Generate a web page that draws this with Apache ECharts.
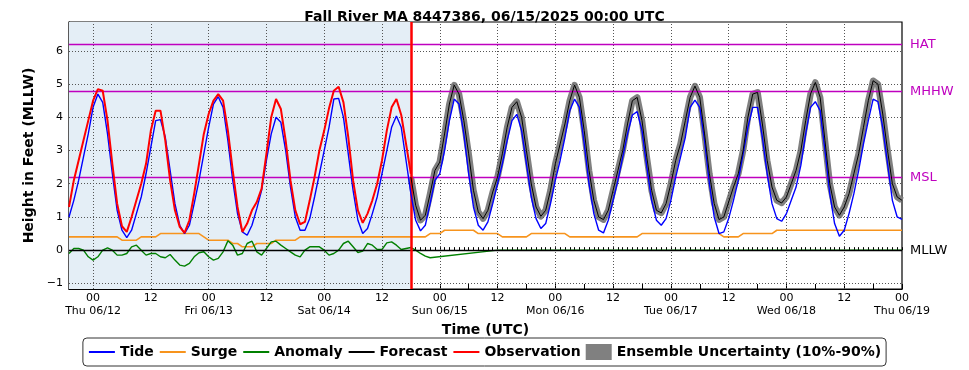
<!DOCTYPE html>
<html><head><meta charset="utf-8">
<script src="https://cdn.jsdelivr.net/npm/echarts@6/dist/echarts.min.js"></script>
<style>html,body{margin:0;padding:0;background:#fff}#c{width:969px;height:370px}</style>
</head><body><div id="c"></div>
<script>
// ---- data (hours relative to Thu 06/12 00:00 UTC) ----
const titleText = 'Fall River MA 8447386, 06/15/2025 00:00 UTC';
const xMinHour = -5, xMaxHour = 168;
const xTickHours = [0,12,24,36,48,60,72,84,96,108,120,132,144,156,168];
const xTickTop = ['00','12','00','12','00','12','00','12','00','12','00','12','00','12','00'];
const xTickDays = ['Thu 06/12','','Fri 06/13','','Sat 06/14','','Sun 06/15','','Mon 06/16','','Tue 06/17','','Wed 06/18','','Thu 06/19'];
const yTicks = [-1,0,1,2,3,4,5,6];
const datumNames = ['HAT','MHHW','MSL','MLLW'];
const datumValues = [6.2,4.78,2.19,0];
const obsEndHour = 66;

const tideStartHour = -5;
const tideValues = [
  1.0,1.5,2.1,2.8,3.5,
  4.3,4.7,4.45,3.5,2.3,1.2,0.6,0.38,0.6,1.1,1.6,2.3,
  3.1,3.9,3.93,3.4,2.4,1.4,0.75,0.5,0.75,1.4,2.1,2.9,
  3.7,4.4,4.62,4.3,3.3,2.1,1.1,0.55,0.45,0.75,1.25,1.8,
  2.7,3.5,4.0,3.85,3.0,1.9,1.0,0.6,0.6,0.95,1.6,2.3,
  3.0,3.7,4.55,4.57,4.0,2.9,1.8,0.9,0.5,0.65,1.1,1.6,
  2.3,3.0,3.7,4.04,3.7,2.7,1.7,0.9,0.58,0.75,1.4,2.1,
  2.3,3.0,3.9,4.55,4.4,3.5,2.3,1.3,0.75,0.6,0.85,1.4,
  2.0,2.6,3.3,3.9,4.09,3.6,2.6,1.6,0.95,0.65,0.8,1.4,
  2.1,2.7,3.4,4.2,4.55,4.3,3.2,2.0,1.1,0.6,0.52,0.9,
  1.5,2.1,2.8,3.5,4.07,4.17,3.6,2.5,1.5,0.9,0.75,0.95,
  1.5,2.2,2.8,3.4,4.3,4.52,4.3,3.3,2.0,1.0,0.5,0.55,
  0.95,1.5,2.1,2.9,3.7,4.3,4.3,3.4,2.3,1.4,0.95,0.87,
  1.1,1.5,1.9,2.56,3.5,4.3,4.47,4.2,3.0,1.7,0.8,0.42,
  0.6,1.1,1.7,2.4,3.2,3.9,4.55,4.47,3.7,2.6,1.5,1.0,
  0.93
];

const obsStartHour = -5;
const obsValues = [
  1.3,2.1,2.7,3.3,3.9,
  4.5,4.85,4.8,3.9,2.6,1.4,0.72,0.55,1.0,1.5,2.0,2.6,
  3.6,4.2,4.2,3.3,2.1,1.2,0.7,0.52,0.9,1.7,2.6,3.5,
  4.1,4.5,4.7,4.5,3.6,2.4,1.3,0.55,0.8,1.2,1.45,1.85,
  2.9,4.0,4.55,4.25,3.3,2.1,1.2,0.78,0.85,1.5,2.2,3.0,
  3.6,4.27,4.8,4.92,4.45,3.4,2.1,1.2,0.82,1.1,1.5,2.0,
  2.7,3.6,4.3,4.55,4.07,3.2,2.3
];

const fcstStartHour = 66;
const fcstValues = [
  2.2,1.35,0.9,1.05,1.7,2.4,
  2.65,3.5,4.4,4.97,4.7,3.9,2.9,1.8,1.15,0.95,1.2,1.75,
  2.2,2.9,3.7,4.3,4.47,4.0,3.0,2.0,1.3,1.02,1.2,1.8,
  2.6,3.2,3.8,4.5,4.97,4.6,3.6,2.4,1.5,1.0,0.92,1.2,
  1.8,2.4,3.0,3.8,4.5,4.6,3.9,2.8,1.8,1.2,1.12,1.4,
  2.0,2.7,3.2,3.9,4.6,4.94,4.6,3.5,2.3,1.4,0.92,1.0,
  1.45,1.9,2.3,3.0,4.0,4.7,4.75,3.8,2.7,1.9,1.5,1.42,
  1.6,2.0,2.4,3.0,3.9,4.7,5.05,4.6,3.3,2.0,1.3,1.05,
  1.3,1.7,2.3,2.9,3.7,4.5,5.1,5.0,4.1,3.0,2.0,1.6,
  1.5
];

const surgeHours  = [-5,5,6,9,10,13,14,22,23,24,28,29,30,31,33,34,37,38,42,43,69,70,72,73,79,80,84,85,90,91,98,99,113,114,130,131,134,135,141,142,168];
const surgeValues = [0.4,0.4,0.3,0.3,0.4,0.4,0.5,0.5,0.4,0.3,0.3,0.2,0.2,0.1,0.1,0.2,0.2,0.3,0.3,0.4,0.4,0.5,0.5,0.6,0.6,0.5,0.5,0.4,0.4,0.5,0.5,0.4,0.4,0.5,0.5,0.4,0.4,0.5,0.5,0.6,0.6];

const anomalyObsStartHour = -5;
const anomalyObsValues = [
  -0.1,0.05,0.05,0.0,-0.2,
  -0.3,-0.2,0.0,0.07,0.0,-0.15,-0.15,-0.1,0.1,0.15,0.0,-0.15,
  -0.1,-0.1,-0.2,-0.23,-0.13,-0.3,-0.45,-0.48,-0.4,-0.2,-0.08,-0.05,
  -0.2,-0.3,-0.25,-0.05,0.28,0.15,-0.15,-0.1,0.2,0.27,-0.05,-0.15,
  0.05,0.25,0.27,0.15,0.05,-0.05,-0.15,-0.2,0.0,0.1,0.1,0.1,
  0.0,-0.15,-0.1,0.0,0.2,0.27,0.1,-0.07,-0.03,0.2,0.15,0.02,
  0.02,0.22,0.25,0.15,0.02,0.05,0.08
];
const anomalyFcstHours  = [67,68,69,70,84,168];
const anomalyFcstValues = [0.0,-0.1,-0.18,-0.23,0.0,0.0];

// ---- build series data ----
const seq = (start, vals) => vals.map((v, i) => [start + i, v]);
const tideData = seq(tideStartHour, tideValues);
const obsData = seq(obsStartHour, obsValues);
const fcstData = seq(fcstStartHour, fcstValues);
const surgeData = surgeHours.map((h, i) => [h, surgeValues[i]]);
const anomalyData = seq(anomalyObsStartHour, anomalyObsValues)
  .concat(anomalyFcstHours.map((h, i) => [h, anomalyFcstValues[i]]));

const hourlyTicks = [];
for (let h = xMinHour; h <= xMaxHour; h++) hourlyTicks.push(h);
const sixHourTicks = hourlyTicks.filter(h => h % 6 === 0);

const FONT = 'DejaVu Sans';
const MAG = '#bf00bf';
const noSym = {opacity: 0};

const chart = echarts.init(document.getElementById('c'), null, {renderer: 'canvas'});
const baseX = {
  type: 'value', min: xMinHour, max: xMaxHour, gridIndex: 0, position: 'bottom',
  splitLine: {show: false}
};
chart.setOption({
  animation: false,
  backgroundColor: '#fff',
  title: {
    text: titleText, left: 'center', top: 5,
    textStyle: {fontFamily: FONT, fontSize: 14, fontWeight: 'bold', color: '#000'}
  },
  grid: {left: 69, right: 67, top: 22, bottom: 81, show: true,
         borderColor: '#000', borderWidth: 1.2, backgroundColor: 'transparent'},
  legend: {
    top: 338, left: 'center', itemWidth: 26, itemHeight: 16, itemGap: 5,
    padding: [6, 5], borderColor: '#333', borderWidth: 1, borderRadius: 4,
    textStyle: {fontFamily: FONT, fontSize: 14, fontWeight: 'bold', color: '#000'},
    data: [
      {name: 'Tide', itemStyle: noSym},
      {name: 'Surge', itemStyle: noSym},
      {name: 'Anomaly', itemStyle: noSym},
      {name: 'Forecast', itemStyle: noSym},
      {name: 'Observation', itemStyle: noSym},
      {name: 'Ensemble Uncertainty (10%-90%)', icon: 'rect'}
    ]
  },
  xAxis: [
    Object.assign({}, baseX, {
      name: 'Time (UTC)', nameLocation: 'middle', nameGap: 30,
      nameTextStyle: {fontFamily: FONT, fontSize: 14, fontWeight: 'bold', color: '#000'},
      axisLine: {show: true, onZero: false, lineStyle: {color: '#000', width: 1.2}},
      axisTick: {show: true, inside: true, length: 5, customValues: sixHourTicks, lineStyle: {color: '#000'}},
      axisLabel: {
        show: true, customValues: xTickHours, margin: 3, fontFamily: FONT, fontSize: 11,
        color: '#000', lineHeight: 13,
        formatter: v => {
          const i = xTickHours.indexOf(v);
          if (i < 0) return '';
          return xTickDays[i] ? xTickTop[i] + '\n' + xTickDays[i] : xTickTop[i];
        }
      }
    }),
    Object.assign({}, baseX, {
      axisLine: {show: false},
      axisTick: {show: true, inside: true, length: 3, customValues: hourlyTicks, lineStyle: {color: '#000'}},
      axisLabel: {show: false}
    })
  ],
  yAxis: {
    type: 'value', min: -1.17, max: 6.87,
    name: 'Height in Feet (MLLW)', nameLocation: 'middle', nameGap: 30, nameRotate: 90,
    nameTextStyle: {fontFamily: FONT, fontSize: 14, fontWeight: 'bold', color: '#000'},
    axisLine: {show: true, onZero: false, lineStyle: {color: '#000', width: 1.2}},
    axisTick: {show: true, inside: true, length: 4, customValues: yTicks, lineStyle: {color: '#000'}},
    axisLabel: {customValues: yTicks, fontFamily: FONT, fontSize: 11, color: '#000', margin: 6,
      formatter: v => v < 0 ? '\u2212' + Math.abs(v) : String(v)},
    splitLine: {show: false}
  },
  series: [
    { // observation-period shading
      type: 'line', name: '_shade', data: [], z: 0, silent: true,
      markArea: {silent: true, itemStyle: {color: '#e4eef6'},
        data: [[{xAxis: xMinHour}, {xAxis: obsEndHour}]]}
    },
    { // dotted grid
      type: 'line', name: '_grid', data: [], z: 1, silent: true,
      markLine: {silent: true, symbol: 'none', label: {show: false},
        lineStyle: {color: '#555', type: [1, 2], width: 1},
        data: xTickHours.filter(h => h < xMaxHour).map(h => ({xAxis: h}))
          .concat(yTicks.map(v => ({yAxis: v})))}
    },
    { // datum lines
      type: 'line', name: '_datum', data: [], z: 2, silent: true,
      markLine: {silent: true, symbol: 'none',
        label: {show: true, position: 'end', distance: 8, formatter: '{b}', fontFamily: FONT, fontSize: 13},
        data: datumNames.map((n, i) => ({
          name: n, yAxis: datumValues[i],
          lineStyle: {color: n === 'MLLW' ? '#000' : MAG, width: 1.3, type: 'solid'},
          label: {color: n === 'MLLW' ? '#000' : MAG}
        }))}
    },
    {
      type: 'line', name: 'Surge', data: surgeData, z: 3, symbol: 'none',
      lineStyle: {color: '#f7941d', width: 1.6}, itemStyle: {color: '#f7941d'}
    },
    {
      type: 'line', name: 'Anomaly', data: anomalyData, z: 3, symbol: 'none',
      lineStyle: {color: '#008000', width: 1.4}, itemStyle: {color: '#008000'}
    },
    {
      type: 'line', name: 'Ensemble Uncertainty (10%-90%)', data: fcstData, z: 4, symbol: 'none',
      lineStyle: {color: '#808080', width: 6.5, join: 'round'}, itemStyle: {color: '#808080'}
    },
    {
      type: 'line', name: 'Tide', data: tideData, z: 5, symbol: 'none',
      lineStyle: {color: '#0000ff', width: 1.4}, itemStyle: {color: '#0000ff'}
    },
    {
      type: 'line', name: 'Forecast', data: fcstData, z: 6, symbol: 'none',
      lineStyle: {color: '#000', width: 1}, itemStyle: {color: '#000'}
    },
    {
      type: 'line', name: 'Observation', data: obsData, z: 7, symbol: 'none',
      lineStyle: {color: '#ff0000', width: 2}, itemStyle: {color: '#ff0000'},
      markLine: {silent: true, symbol: 'none', label: {show: false},
        lineStyle: {color: '#ff0000', width: 2.5, type: 'solid'},
        data: [{xAxis: obsEndHour}]}
    }
  ]
});
</script></body></html>
